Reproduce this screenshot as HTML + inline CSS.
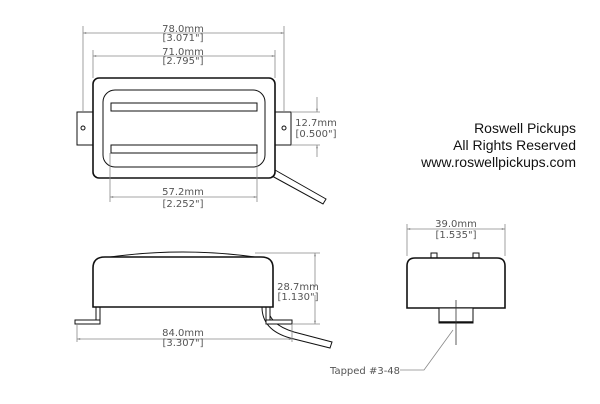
<!DOCTYPE html>
<html><head><style>
html,body{margin:0;padding:0;background:#fff;width:600px;height:404px;overflow:hidden}
svg{display:block}
text{font-family:"DejaVu Sans","Liberation Sans",sans-serif;fill:#555}
.d{stroke:#888;stroke-width:.8;fill:none}
.k{stroke:#111;stroke-width:1.6;fill:#fff}
.t{stroke:#111;stroke-width:1;fill:#fff}
</style></head><body>
<svg width="600" height="404" viewBox="0 0 600 404">
<defs><marker id="a" viewBox="0 0 10 10" refX="10" refY="5" markerWidth="6" markerHeight="4" orient="auto-start-reverse"><path d="M0,2 L10,5 L0,8z" fill="#888"/></marker></defs>
<path d="M275,170 L326,199 L323,204 L272,176" class="t"/>
<rect x="77" y="112" width="17" height="33" class="t"/>
<rect x="274" y="112" width="17" height="33" class="t"/>
<circle cx="83" cy="128" r="2" class="t"/><circle cx="284" cy="128" r="2" class="t"/>
<rect x="93" y="78" width="182" height="100" rx="6" class="k"/>
<rect x="103" y="90" width="162" height="77" rx="12" class="t"/>
<rect x="111" y="103" width="146" height="8" class="t"/>
<rect x="111" y="145" width="146" height="8" class="t"/>
<line x1="83" y1="26" x2="83" y2="112" class="d"/><line x1="284" y1="26" x2="284" y2="112" class="d"/>
<line x1="83" y1="33" x2="284" y2="33" class="d" marker-start="url(#a)" marker-end="url(#a)"/>
<line x1="93" y1="50" x2="93" y2="78" class="d"/><line x1="275" y1="50" x2="275" y2="78" class="d"/>
<line x1="93" y1="56" x2="275" y2="56" class="d" marker-start="url(#a)" marker-end="url(#a)"/>
<line x1="110" y1="153" x2="110" y2="202" class="d"/><line x1="257" y1="153" x2="257" y2="202" class="d"/>
<line x1="110" y1="197" x2="257" y2="197" class="d" marker-start="url(#a)" marker-end="url(#a)"/>
<line x1="291" y1="112" x2="320" y2="112" class="d"/><line x1="291" y1="145" x2="320" y2="145" class="d"/>
<line x1="317" y1="97" x2="317" y2="112" class="d" marker-end="url(#a)"/><line x1="317" y1="157" x2="317" y2="145" class="d" marker-end="url(#a)"/>
<g font-size="10" text-anchor="middle">
<text x="183" y="32">78.0mm</text><text x="183" y="41">[3.071"]</text>
<text x="183" y="55">71.0mm</text><text x="183" y="64">[2.795"]</text>
<text x="183" y="195">57.2mm</text><text x="183" y="207">[2.252"]</text>
<text x="316" y="126">12.7mm</text><text x="316" y="137">[0.500"]</text>
</g>
<path d="M262,307 Q262,330 290,338 L330,348 L332,342 L294,332 Q268,324 268,307" class="t"/>
<rect x="96" y="305" width="4" height="16" class="t"/><rect x="266" y="305" width="4" height="16" class="t"/>
<rect x="75" y="320" width="25" height="4" class="t"/><rect x="266" y="320" width="26" height="4" class="t"/>
<path d="M110,257 Q183,247 255,257" class="t"/>
<path d="M93,307 L93,268 Q93,257 105,257 L261,257 Q273,257 273,268 L273,307 Z" class="k"/>
<line x1="255" y1="253" x2="320" y2="253" class="d"/>
<line x1="315" y1="287" x2="315" y2="253" class="d" marker-end="url(#a)"/>
<line x1="315" y1="295" x2="315" y2="324" class="d" marker-end="url(#a)"/>
<line x1="292" y1="324" x2="320" y2="324" class="d"/>
<line x1="77" y1="324" x2="77" y2="342" class="d"/><line x1="292" y1="324" x2="292" y2="342" class="d"/>
<line x1="77" y1="339" x2="292" y2="339" class="d" marker-start="url(#a)" marker-end="url(#a)"/>
<g font-size="10" text-anchor="middle">
<text x="298" y="290">28.7mm</text><text x="298" y="300">[1.130"]</text>
<text x="183" y="336">84.0mm</text><text x="183" y="346">[3.307"]</text>
</g>
<rect x="431" y="253" width="6" height="6" class="t"/><rect x="473" y="253" width="6" height="6" class="t"/>
<path d="M407,308 L407,266 Q407,258 415,258 L497,258 Q505,258 505,266 L505,308 Z" class="k"/>
<rect x="439" y="308" width="34" height="15" class="t"/>
<line x1="439" y1="322" x2="473" y2="322" stroke="#111" stroke-width="1.5"/>
<line x1="456" y1="300" x2="456" y2="345" stroke="#333" stroke-width=".8"/>
<path d="M453,330 L424,370 L400,370" class="d"/>
<line x1="407" y1="224" x2="407" y2="256" class="d"/><line x1="505" y1="224" x2="505" y2="256" class="d"/>
<line x1="407" y1="229" x2="505" y2="229" class="d" marker-start="url(#a)" marker-end="url(#a)"/>
<g font-size="10" text-anchor="middle">
<text x="456" y="227">39.0mm</text><text x="456" y="238">[1.535"]</text>
</g>
<text x="330" y="374" font-size="10">Tapped #3-48</text>
<g font-size="14" text-anchor="end">
<text x="576" y="133" style="fill:#111;font-family:'Liberation Sans',sans-serif">Roswell Pickups</text>
<text x="576" y="150" style="fill:#111;font-family:'Liberation Sans',sans-serif">All Rights Reserved</text>
<text x="576" y="167" style="fill:#111;font-family:'Liberation Sans',sans-serif">www.roswellpickups.com</text>
</g>
</svg>
</body></html>
